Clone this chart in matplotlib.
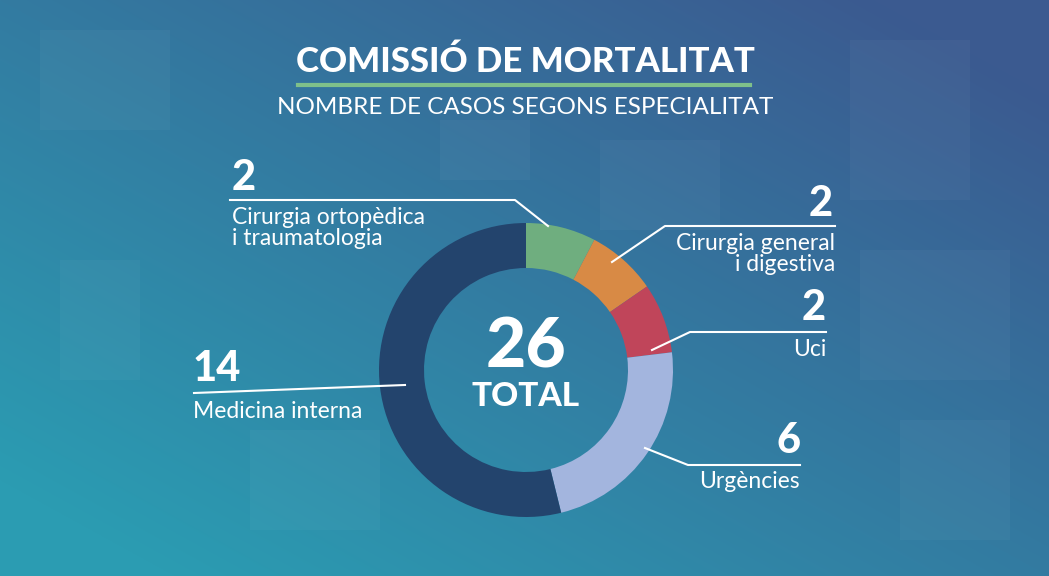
import numpy as np
import matplotlib.pyplot as plt
from matplotlib.patches import Rectangle

labels = ['Cirurgia ortopèdica\ni traumatologia', 'Cirurgia general\ni digestiva', 'Uci', 'Urgències', 'Medicina interna']
values = [2, 2, 2, 6, 14]
colors = ['#6fae7f', '#d88a45', '#c0455a', '#a3b5de', '#23446d']
total = sum(values)

W, H = 1049, 576
fig = plt.figure(figsize=(W / 100, H / 100), dpi=100)
ax = fig.add_axes([0, 0, 1, 1])
ax.set_xlim(0, W)
ax.set_ylim(H, 0)
ax.axis('off')

# background gradient
yy, xx = np.mgrid[0:H, 0:W]
t = np.clip((xx / W) * 0.6 + (1 - yy / H) * 0.6 - 0.1, 0, 1)
c0 = np.array([0x2b, 0x9c, 0xb2]) / 255
c1 = np.array([0x3b, 0x5a, 0x90]) / 255
img = c0[None, None, :] * (1 - t[..., None]) + c1[None, None, :] * t[..., None]
ax.imshow(img, extent=[0, W, H, 0], zorder=0)
for (x, y, w, h) in [(40, 30, 130, 100), (850, 40, 120, 160), (860, 250, 150, 130), (60, 260, 80, 120),
                     (600, 140, 120, 90), (250, 430, 130, 100), (900, 420, 110, 120), (440, 120, 90, 60)]:
    ax.add_patch(Rectangle((x, y), w, h, color='white', alpha=0.03, lw=0, zorder=1))

# donut (y axis is inverted, so start at -90 and go "counterclockwise" in data = clockwise on screen)
cx, cy, R = 526, 370, 147
wedges, _ = ax.pie(values, colors=colors, startangle=-90, counterclock=True,
                   radius=R, center=(cx, cy), wedgeprops=dict(width=45, linewidth=0))
for w in wedges:
    w.set_zorder(2)
ax.set_xlim(0, W)
ax.set_ylim(H, 0)
ax.set_aspect('auto')
ax.axis('off')

ff = 'Lato'
ax.text(cx, 348, str(total), color='white', fontsize=50, fontweight='heavy', ha='center', va='center', family=ff, zorder=3)
ax.text(cx, 396, 'TOTAL', color='white', fontsize=24, fontweight='heavy', ha='center', va='center', family=ff, zorder=3)

# title
ax.text(525, 62, 'COMISSIÓ DE MORTALITAT', color='white', fontsize=25, fontweight='heavy', ha='center', va='center', family=ff)
ax.plot([298, 750], [85, 85], color='#7fc08a', lw=3)
ax.text(525, 108, 'NOMBRE DE CASOS SEGONS ESPECIALITAT', color='white', fontsize=17.5, ha='center', va='center', family=ff)

lw = 1.5
fs = 16.5
nfs = 30
# ortopedica
ax.plot([230, 515, 548], [200, 200, 226], color='white', lw=lw, zorder=4)
ax.text(232, 178, str(values[0]), color='white', fontsize=nfs, fontweight='heavy', va='center', family=ff)
ax.text(232, 228, labels[0], color='white', fontsize=fs, va='center', family=ff, linespacing=1.05)
# general
ax.plot([612, 665, 835], [262, 226, 226], color='white', lw=lw, zorder=4)
ax.text(833, 204, str(values[1]), color='white', fontsize=nfs, fontweight='heavy', ha='right', va='center', family=ff)
ax.text(835, 254, labels[1], color='white', fontsize=fs, ha='right', va='center', family=ff, linespacing=1.05)
# uci
ax.plot([652, 690, 826], [350, 332, 332], color='white', lw=lw, zorder=4)
ax.text(826, 308, str(values[2]), color='white', fontsize=nfs, fontweight='heavy', ha='right', va='center', family=ff)
ax.text(826, 350, labels[2], color='white', fontsize=fs, ha='right', va='center', family=ff)
# urgencies
ax.plot([645, 688, 800], [448, 465, 465], color='white', lw=lw, zorder=4)
ax.text(800, 441, str(values[3]), color='white', fontsize=nfs, fontweight='heavy', ha='right', va='center', family=ff)
ax.text(800, 482, labels[3], color='white', fontsize=fs, ha='right', va='center', family=ff)
# medicina interna
ax.plot([194, 405], [393, 385], color='white', lw=lw, zorder=4)
ax.text(193, 369, str(values[4]), color='white', fontsize=nfs, fontweight='heavy', va='center', family=ff)
ax.text(193, 412, labels[4], color='white', fontsize=fs, va='center', family=ff)

fig.savefig('out.png', dpi=100)
